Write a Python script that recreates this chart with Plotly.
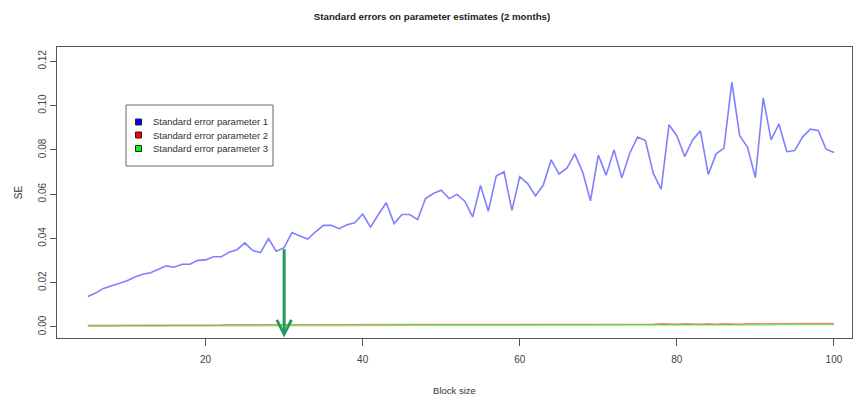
import plotly.graph_objects as go

# Block sizes evaluated
block_size = list(range(5, 101))

# Standard error of parameter 1 for each block size
se_param1 = [
    0.0138, 0.0153, 0.0174, 0.0186, 0.0197, 0.0209, 0.0226, 0.0238, 0.0245, 0.0259,
    0.0276, 0.0270, 0.0283, 0.0283, 0.0301, 0.0303, 0.0317, 0.0317, 0.0338, 0.0349,
    0.0380, 0.0345, 0.0336, 0.0399, 0.0342, 0.0358, 0.0427, 0.0411, 0.0397, 0.0430,
    0.0459, 0.0459, 0.0444, 0.0462, 0.0471, 0.0510, 0.0451, 0.0508, 0.0561, 0.0467,
    0.0508, 0.0508, 0.0485, 0.0580, 0.0603, 0.0618, 0.0580, 0.0599, 0.0568, 0.0497,
    0.0639, 0.0523, 0.0682, 0.0701, 0.0527, 0.0679, 0.0648, 0.0592, 0.0641, 0.0755,
    0.0691, 0.0717, 0.0782, 0.0701, 0.0570, 0.0777, 0.0686, 0.0800, 0.0674, 0.0785,
    0.0858, 0.0842, 0.0694, 0.0623, 0.0914, 0.0864, 0.0770, 0.0845, 0.0886, 0.0689,
    0.0782, 0.0808, 0.1106, 0.0864, 0.0812, 0.0674, 0.1035, 0.0845, 0.0917, 0.0792,
    0.0797, 0.0858, 0.0894, 0.0888, 0.0803, 0.0788,
]

# Standard error of parameter 2
se_param2 = [
    0.0006, 0.0006, 0.0006, 0.0006, 0.0006, 0.0008, 0.0008, 0.0008, 0.0008, 0.0008,
    0.0008, 0.0008, 0.0008, 0.0008, 0.0008, 0.0008, 0.0008, 0.0008, 0.0010, 0.0010,
    0.0010, 0.0010, 0.0010, 0.0010, 0.0010, 0.0010, 0.0010, 0.0010, 0.0010, 0.0010,
    0.0010, 0.0010, 0.0010, 0.0010, 0.0010, 0.0010, 0.0010, 0.0010, 0.0010, 0.0013,
    0.0013, 0.0013, 0.0013, 0.0013, 0.0013, 0.0013, 0.0011, 0.0013, 0.0013, 0.0013,
    0.0013, 0.0013, 0.0013, 0.0013, 0.0012, 0.0012, 0.0012, 0.0012, 0.0012, 0.0012,
    0.0012, 0.0012, 0.0012, 0.0012, 0.0012, 0.0012, 0.0012, 0.0012, 0.0012, 0.0012,
    0.0012, 0.0012, 0.0012, 0.0014, 0.0012, 0.0012, 0.0014, 0.0012, 0.0012, 0.0014,
    0.0012, 0.0014, 0.0012, 0.0012, 0.0014, 0.0014, 0.0014, 0.0012, 0.0015, 0.0015,
    0.0015, 0.0015, 0.0015, 0.0015, 0.0015, 0.0015,
]

# Standard error of parameter 3
se_param3 = [
    0.0004, 0.0004, 0.0004, 0.0004, 0.0004, 0.0005, 0.0005, 0.0005, 0.0005, 0.0005,
    0.0005, 0.0005, 0.0005, 0.0005, 0.0005, 0.0005, 0.0005, 0.0005, 0.0007, 0.0007,
    0.0007, 0.0007, 0.0007, 0.0007, 0.0007, 0.0007, 0.0007, 0.0007, 0.0007, 0.0007,
    0.0007, 0.0007, 0.0007, 0.0007, 0.0007, 0.0007, 0.0007, 0.0007, 0.0007, 0.0008,
    0.0008, 0.0008, 0.0008, 0.0008, 0.0008, 0.0008, 0.0008, 0.0008, 0.0008, 0.0008,
    0.0008, 0.0008, 0.0008, 0.0008, 0.0008, 0.0006, 0.0006, 0.0008, 0.0008, 0.0008,
    0.0008, 0.0008, 0.0008, 0.0008, 0.0006, 0.0009, 0.0009, 0.0009, 0.0009, 0.0009,
    0.0009, 0.0009, 0.0009, 0.0009, 0.0009, 0.0009, 0.0009, 0.0009, 0.0009, 0.0009,
    0.0009, 0.0009, 0.0009, 0.0009, 0.0009, 0.0009, 0.0009, 0.0009, 0.0011, 0.0011,
    0.0011, 0.0011, 0.0011, 0.0011, 0.0011, 0.0011,
]

series_names = [
    "Standard error parameter 1",
    "Standard error parameter 2",
    "Standard error parameter 3",
]
line_colors = ["rgba(0,0,255,0.5)", "rgba(255,0,0,0.5)", "rgba(0,255,0,0.5)"]
key_colors = ["#0000FF", "#FF0000", "#00FF00"]

x_ticks = [20, 40, 60, 80, 100]
y_ticks = [0.00, 0.02, 0.04, 0.06, 0.08, 0.10, 0.12]

# Block size singled out by the arrow
marked_block = 30

FONT = "Liberation Sans, Arial, sans-serif"
AXIS_GREY = "#555555"

# Plot-area geometry in pixels (used to place the boxed key)
PLOT_L, PLOT_R, PLOT_T, PLOT_B = 57, 852, 47, 338


def px_x(p):
    return (p - PLOT_L) / (PLOT_R - PLOT_L)


def px_y(p):
    return (PLOT_B - p) / (PLOT_B - PLOT_T)


fig = go.Figure()

for values, name, color in zip([se_param1, se_param2, se_param3], series_names, line_colors):
    fig.add_trace(go.Scatter(
        x=block_size, y=values, mode="lines", name=name,
        line=dict(color=color, width=1.6), showlegend=False,
    ))

# Boxed key with filled squares, drawn in paper coordinates
shapes = [dict(
    type="rect", xref="paper", yref="paper",
    x0=px_x(126), x1=px_x(273), y0=px_y(166), y1=px_y(105),
    line=dict(color="#666666", width=1), fillcolor="white", layer="above",
)]
annotations = []
key_rows = [122, 135, 148.5]
for name, color, row in zip(series_names, key_colors, key_rows):
    shapes.append(dict(
        type="rect", xref="paper", yref="paper",
        x0=px_x(135.5), x1=px_x(141.5), y0=px_y(row + 3), y1=px_y(row - 3),
        line=dict(color="#222222", width=1), fillcolor=color, layer="above",
    ))
    annotations.append(dict(
        x=px_x(151), y=px_y(row), xref="paper", yref="paper",
        xanchor="left", yanchor="middle", showarrow=False, text=name,
        font=dict(family=FONT, size=9.5, color="#333333"),
    ))

marked_value = se_param1[block_size.index(marked_block)]
annotations.append(dict(
    x=marked_block, y=-0.0048, xref="x", yref="y",
    ax=marked_block, ay=marked_value, axref="x", ayref="y",
    showarrow=True, arrowhead=5, arrowsize=0.95, arrowwidth=3,
    arrowcolor="#1f9a5e", text="",
))

fig.update_layout(
    width=858, height=401,
    margin=dict(l=PLOT_L, r=858 - PLOT_R, t=PLOT_T, b=401 - PLOT_B, autoexpand=False),
    paper_bgcolor="white", plot_bgcolor="white",
    font=dict(family=FONT, size=10, color="#333333"),
    title=dict(
        text="<b>Standard errors on parameter estimates (2 months)</b>",
        x=432 / 858, xanchor="center", y=1 - 17 / 401, yanchor="middle",
        font=dict(family=FONT, size=9.7, color="#222222"),
    ),
    showlegend=False,
    shapes=shapes,
    annotations=annotations,
    xaxis=dict(
        range=[1.08, 102.3], tickvals=x_ticks, ticks="outside", ticklen=7,
        tickcolor=AXIS_GREY, showline=True, linecolor=AXIS_GREY, mirror=True,
        showgrid=False, zeroline=False, tickfont=dict(size=10, color="#444444"),
        ticklabelstandoff=5, automargin=False,
        title=dict(text="Block size", font=dict(size=9.5, color="#333333"), standoff=23),
    ),
    yaxis=dict(
        range=[-0.005, 0.1265], tickvals=y_ticks, tickformat=".2f", tickangle=-90,
        ticks="outside", ticklen=6, tickcolor=AXIS_GREY, showline=True,
        linecolor=AXIS_GREY, mirror=True, showgrid=False, zeroline=False,
        tickfont=dict(size=10, color="#444444"), automargin=False,
        title=dict(text="SE", font=dict(size=10, color="#333333"), standoff=12),
    ),
)

fig.write_html("out.html")
